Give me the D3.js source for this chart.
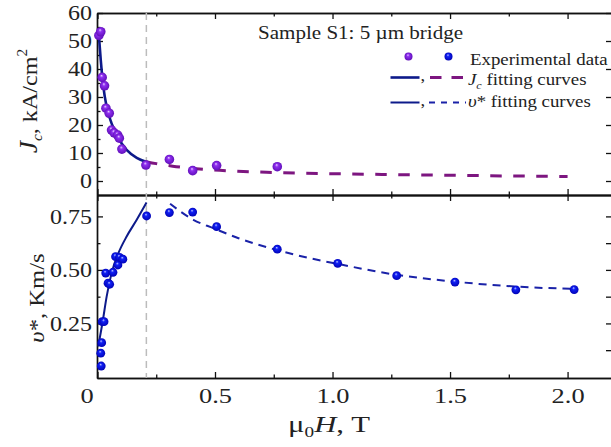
<!DOCTYPE html>
<html><head><meta charset="utf-8">
<script src="https://cdn.jsdelivr.net/npm/d3@7"></script>
<style>
html,body{margin:0;padding:0;background:#fff;}
svg{display:block;font-family:"Liberation Serif","Times New Roman",serif;}
</style></head><body>
<svg id="chart" width="611" height="447"></svg>
<script>
// Critical current density Jc (kA/cm^2) versus field, sample S1
const jcField = [0.006, 0.014, 0.020, 0.030, 0.036, 0.050, 0.060, 0.071, 0.086, 0.093, 0.104, 0.206, 0.306, 0.405, 0.507, 0.765];
const jcValue = [52.0, 53.3, 37.0, 34.0, 26.0, 24.2, 18.2, 17.2, 16.4, 15.3, 11.4, 5.7, 7.7, 3.7, 5.5, 5.1];

// Critical vortex velocity v* (km/s) versus field
const vField = [0.016, 0.014, 0.018, 0.020, 0.028, 0.035, 0.045, 0.052, 0.066, 0.077, 0.087, 0.094, 0.108, 0.209, 0.306, 0.405, 0.507, 0.765, 1.022, 1.273, 1.521, 1.780, 2.028];
const vValue = [0.051, 0.111, 0.160, 0.258, 0.258, 0.485, 0.438, 0.433, 0.489, 0.562, 0.523, 0.559, 0.550, 0.752, 0.768, 0.770, 0.702, 0.597, 0.531, 0.473, 0.443, 0.407, 0.408];

// Fitting curves (low-field and high-field branches)
const jcFitLowField  = [0.006, 0.014, 0.025, 0.039, 0.060, 0.089, 0.124, 0.167, 0.206];
const jcFitLowValue  = [52.0, 43.2, 33.7, 26.5, 20.6, 15.3, 11.1, 8.3, 6.9];
const jcFitHighField = [0.206, 0.25, 0.32, 0.42, 0.52, 0.62, 0.72, 0.85, 1.0, 1.25, 1.5, 1.75, 2.0];
const jcFitHighValue = [6.9, 6.2, 5.3, 4.4, 3.8, 3.4, 3.1, 2.8, 2.6, 2.3, 2.05, 1.8, 1.6];
const vFitLowField   = [0.003, 0.022, 0.039, 0.060, 0.089, 0.124, 0.167, 0.209];
const vFitLowValue   = [0.142, 0.258, 0.375, 0.485, 0.578, 0.656, 0.734, 0.815];
const vFitHighField  = [0.309, 0.408, 0.493, 0.600, 0.763, 0.862, 1.022, 1.273, 1.521, 1.780, 2.039];
const vFitHighValue  = [0.809, 0.734, 0.695, 0.648, 0.593, 0.565, 0.528, 0.477, 0.445, 0.422, 0.411];

// Crossover field marked by the vertical guide
const crossoverField = 0.208;

// Axis ticks
const xMajor = [0, 0.5, 1.0, 1.5, 2.0];
const xMinor = [0.25, 0.75, 1.25, 1.75];
const xTickLabels = ["0", "0.5", "1.0", "1.5", "2.0"];
const jcMajor = [0, 10, 20, 30, 40, 50, 60];
const jcMinor = [5, 15, 25, 35, 45, 55];
const vMajor = [0.25, 0.5, 0.75];
const vMinor = [0.125, 0.375, 0.625];
const vTickLabels = ["0.25", "0.50", "0.75"];

const svg = d3.select("#chart");
const left = 97, right = 612, topY = 13, midY = 195, botY = 378;
const x  = d3.scaleLinear().domain([-0.002, 2.189]).range([left, right]);
const yJ = d3.scaleLinear().domain([-5, 60]).range([midY, topY]);
const yV = d3.scaleLinear().domain([-0.005, 0.85]).range([botY, midY]);

const NAVY = "#0d1a8a", PURPLE_LINE = "#7d1680", BLUE_LINE = "#1a22a8";
const SX = 1.2; // horizontal widening of glyphs

// sphere-like gradients for the markers
const defs = svg.append("defs");
function sphere(id, hi, base, dark) {
  const g = defs.append("radialGradient").attr("id", id)
    .attr("cx", "50%").attr("cy", "50%").attr("r", "55%").attr("fx", "42%").attr("fy", "30%");
  g.append("stop").attr("offset", "0%").attr("stop-color", hi);
  g.append("stop").attr("offset", "30%").attr("stop-color", base);
  g.append("stop").attr("offset", "100%").attr("stop-color", dark);
}
sphere("ballPurple", "#e8d0ff", "#8f2ff0", "#5c0cb4");
sphere("ballBlue", "#c0c8ff", "#1020f5", "#0000b0");

// ---- axes helpers
function styleAxis(g) {
  g.selectAll("path.domain").attr("stroke", "#111").attr("stroke-width", 1.4);
  g.selectAll(".tick line").attr("stroke", "#111").attr("stroke-width", 1.3);
  g.selectAll("text").attr("font-family", '"Liberation Serif", serif').attr("fill", "#222");
}
function drawAxis(axisFn, scale, vals, size, transform, fmt) {
  const ax = axisFn(scale).tickValues(vals).tickSizeInner(size).tickSizeOuter(0);
  if (fmt) ax.tickFormat(fmt); else ax.tickFormat("");
  const g = svg.append("g").attr("transform", transform).call(ax);
  styleAxis(g);
  return g;
}

// top panel frame & ticks
const jlab = drawAxis(d3.axisLeft, yJ, jcMajor, -6, `translate(${left},0)`, d => d3.format("d")(d));
jlab.selectAll("text").attr("font-size", 20).attr("x", -5).attr("dy", "0.34em")
  .attr("transform", `translate(-5,0) scale(${SX},1) translate(5,0)`);
drawAxis(d3.axisLeft, yJ, jcMinor, -3.5, `translate(${left},0)`);
drawAxis(d3.axisRight, yJ, jcMajor, -6, `translate(${right},0)`);
drawAxis(d3.axisTop, x, xMajor, -6, `translate(0,${topY})`);
drawAxis(d3.axisTop, x, xMinor, -3.5, `translate(0,${topY})`);
drawAxis(d3.axisBottom, x, xMajor, -6, `translate(0,${midY})`);
drawAxis(d3.axisBottom, x, xMinor, -3.5, `translate(0,${midY})`);

// bottom panel frame & ticks
const vlab = drawAxis(d3.axisLeft, yV, vMajor, -6, `translate(${left},0)`, (d, i) => vTickLabels[i]);
vlab.selectAll("text").attr("font-size", 20).attr("x", -5).attr("dy", "0.34em")
  .attr("transform", `translate(-5,0) scale(${SX},1) translate(5,0)`);
drawAxis(d3.axisLeft, yV, vMinor, -3.5, `translate(${left},0)`);
drawAxis(d3.axisRight, yV, vMajor, -6, `translate(${right},0)`);
drawAxis(d3.axisRight, yV, vMinor, -6, `translate(${right},0)`);
drawAxis(d3.axisTop, x, xMajor, -6, `translate(0,${midY})`);
drawAxis(d3.axisTop, x, xMinor, -3.5, `translate(0,${midY})`);
const xlab = drawAxis(d3.axisBottom, x, xMajor, -6, `translate(0,${botY})`, (d, i) => xTickLabels[i]);
xlab.selectAll("text").attr("font-size", 22).attr("y", 9).attr("dy", "0.71em")
  .attr("transform", (d, i) => i === 0 ? `translate(-11,0) scale(${SX},1)` : `scale(${SX},1)`);
drawAxis(d3.axisBottom, x, xMinor, -3.5, `translate(0,${botY})`);

// vertical guide at the crossover field
svg.append("line")
  .attr("x1", x(crossoverField)).attr("x2", x(crossoverField))
  .attr("y1", topY).attr("y2", botY)
  .attr("stroke", "#bcbcbc").attr("stroke-width", 1.5).attr("stroke-dasharray", "7,5");

// fitting curves
const zip = (a, b) => a.map((v, i) => [v, b[i]]);
const lineJ = d3.line().x(d => x(d[0])).y(d => yJ(d[1])).curve(d3.curveMonotoneX);
const lineV = d3.line().x(d => x(d[0])).y(d => yV(d[1])).curve(d3.curveMonotoneX);

svg.append("path").attr("d", lineJ(zip(jcFitLowField, jcFitLowValue)))
  .attr("fill", "none").attr("stroke", NAVY).attr("stroke-width", 2.6);
svg.append("path").attr("d", lineJ(zip(jcFitHighField, jcFitHighValue)))
  .attr("fill", "none").attr("stroke", PURPLE_LINE).attr("stroke-width", 3).attr("stroke-dasharray", "11.5,11.5");
svg.append("path").attr("d", lineV(zip(vFitLowField, vFitLowValue)))
  .attr("fill", "none").attr("stroke", NAVY).attr("stroke-width", 2);
svg.append("path").attr("d", lineV(zip(vFitHighField, vFitHighValue)))
  .attr("fill", "none").attr("stroke", BLUE_LINE).attr("stroke-width", 2).attr("stroke-dasharray", "8,6");

// experimental points
svg.append("g").selectAll("circle").data(zip(jcField, jcValue)).join("circle")
  .attr("cx", d => x(d[0])).attr("cy", d => yJ(d[1])).attr("r", 4.8)
  .attr("fill", "url(#ballPurple)");
svg.append("g").selectAll("circle").data(zip(vField, vValue)).join("circle")
  .attr("cx", d => x(d[0])).attr("cy", d => yV(d[1])).attr("r", 4.4)
  .attr("fill", "url(#ballBlue)");

// ---- text helpers
function textAt(px, py, size, sx, anchor) {
  return svg.append("g").attr("transform", `translate(${px},${py})`)
    .append("text").attr("font-size", size).attr("fill", "#222")
    .attr("text-anchor", anchor || "start")
    .attr("transform", `scale(${sx},1)`);
}

// panel title
textAt(258, 39, 18, 1.17).text("Sample S1: 5 µm bridge");

// legend
svg.append("circle").attr("cx", 408.5).attr("cy", 56.5).attr("r", 4).attr("fill", "url(#ballPurple)");
svg.append("circle").attr("cx", 448.5).attr("cy", 56.5).attr("r", 4).attr("fill", "url(#ballBlue)");
textAt(470, 65, 17, 1.11).text("Experimental data");

svg.append("line").attr("x1", 390.5).attr("x2", 419.5).attr("y1", 77.5).attr("y2", 77.5)
  .attr("stroke", NAVY).attr("stroke-width", 2.6);
textAt(420.5, 81, 17, 1.1).text(",");
svg.append("line").attr("x1", 430).attr("x2", 465).attr("y1", 77.5).attr("y2", 77.5)
  .attr("stroke", PURPLE_LINE).attr("stroke-width", 3).attr("stroke-dasharray", "11.5,10");
const t2 = textAt(468, 85, 17, 1.11);
t2.append("tspan").attr("font-style", "italic").text("J");
t2.append("tspan").attr("font-style", "italic").attr("font-size", 11).attr("dy", 4).text("c");
t2.append("tspan").attr("dy", -4).text(" fitting curves");

svg.append("line").attr("x1", 390.5).attr("x2", 419.5).attr("y1", 102.5).attr("y2", 102.5)
  .attr("stroke", NAVY).attr("stroke-width", 2);
textAt(420.5, 106, 17, 1.1).text(",");
svg.append("line").attr("x1", 429).attr("x2", 466).attr("y1", 102.5).attr("y2", 102.5)
  .attr("stroke", BLUE_LINE).attr("stroke-width", 2).attr("stroke-dasharray", "6,6");
const t3 = textAt(468, 107, 17, 1.11);
t3.append("tspan").attr("font-style", "italic").text("υ");
t3.append("tspan").text("* fitting curves");

// axis titles
const yt1 = svg.append("g").attr("transform", "translate(37,101) rotate(-90)")
  .append("text").attr("text-anchor", "middle").attr("font-size", 22).attr("fill", "#222")
  .attr("transform", "scale(1.1,1)");
yt1.append("tspan").attr("font-style", "italic").attr("font-size", 25).text("J");
yt1.append("tspan").attr("font-style", "italic").attr("font-size", 14).attr("dy", 5).text("c");
yt1.append("tspan").attr("dy", -5).text(", kA/cm");
yt1.append("tspan").attr("font-size", 14).attr("dy", -10).text("2");

const yt2 = svg.append("g").attr("transform", "translate(44,298) rotate(-90)")
  .append("text").attr("text-anchor", "middle").attr("font-size", 22).attr("fill", "#222")
  .attr("transform", "scale(1.12,1)");
yt2.append("tspan").attr("font-style", "italic").text("υ");
yt2.append("tspan").text("*, Km/s");

const xt = svg.append("g").attr("transform", "translate(329,432)")
  .append("text").attr("text-anchor", "middle").attr("font-size", 24).attr("fill", "#222")
  .attr("transform", "scale(1.28,1)");
xt.append("tspan").text("μ");
xt.append("tspan").attr("font-size", 15).attr("dy", 5).text("0");
xt.append("tspan").attr("font-style", "italic").attr("dy", -5).text("H");
xt.append("tspan").text(", T");
</script>
</body></html>
